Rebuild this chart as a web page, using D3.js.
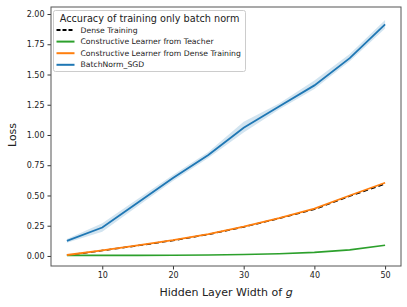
<!DOCTYPE html>
<html>
<head>
<meta charset="utf-8">
<script src="https://cdn.jsdelivr.net/npm/d3@7"></script>
<style>
  body { margin: 0; background: #fff; }
  text { font-family: "DejaVu Sans", sans-serif; }
</style>
</head>
<body>
<svg id="plot" width="407" height="307"></svg>
<script>
// data
var widths = [5, 10, 15, 20, 25, 30, 35, 40, 45, 50];
var denseLoss = [0.005, 0.045, 0.085, 0.128, 0.178, 0.24, 0.31, 0.385, 0.495, 0.595];
var teacherLoss = [0.005, 0.005, 0.005, 0.006, 0.008, 0.012, 0.018, 0.03, 0.05, 0.088];
var fromDenseLoss = [0.008, 0.047, 0.088, 0.13, 0.18, 0.243, 0.313, 0.392, 0.5, 0.605];
var sgdLoss = [0.125, 0.235, 0.44, 0.645, 0.835, 1.06, 1.235, 1.41, 1.635, 1.915];
var sgdLow = [0.11, 0.2, 0.41, 0.62, 0.81, 1.02, 1.21, 1.38, 1.61, 1.88];
var sgdHigh = [0.14, 0.27, 0.47, 0.67, 0.86, 1.11, 1.26, 1.45, 1.67, 1.95];
var yTicks = [0, 0.25, 0.5, 0.75, 1.0, 1.25, 1.5, 1.75, 2.0];
var xTicks = [10, 20, 30, 40, 50];

var series = [
  {name: "Dense Training", values: denseLoss, color: "#000", width: 1.5, dash: "5,3"},
  {name: "Constructive Learner from Teacher", values: teacherLoss, color: "#2ca02c", width: 1.6},
  {name: "Constructive Learner from Dense Training", values: fromDenseLoss, color: "#ff7f0e", width: 1.8},
  {name: "BatchNorm_SGD", values: sgdLoss, color: "#1f77b4", width: 1.8}
];

var svg = d3.select('#plot'),
  margin = {top: 7, right: 6, bottom: 41, left: 51},
  width = +svg.attr("width") - margin.left - margin.right,
  height = +svg.attr("height") - margin.top - margin.bottom;
var g = svg.append("g")
  .attr("transform", "translate(" + margin.left + "," + margin.top + ")");

var x = d3.scaleLinear().domain([2.75, 52.25]).range([0, width]),
  y = d3.scaleLinear().domain([-0.083, 2.058]).range([height, 0]);

// shaded band for SGD
g.append("path")
  .datum(widths)
  .attr("fill", "#1f77b4")
  .attr("fill-opacity", 0.2)
  .attr("d", d3.area()
    .x(function(d) { return x(d); })
    .y0(function(d, i) { return y(sgdLow[i]); })
    .y1(function(d, i) { return y(sgdHigh[i]); }));

var line = d3.line()
  .x(function(d, i) { return x(widths[i]); })
  .y(function(d) { return y(d); });

series.forEach(function(s) {
  g.append("path")
    .datum(s.values)
    .attr("fill", "none")
    .attr("stroke", s.color)
    .attr("stroke-width", s.width)
    .attr("stroke-dasharray", s.dash || null)
    .attr("d", line);
});

// axes
var xAxis = g.append("g")
  .attr("transform", "translate(0," + height + ")")
  .call(d3.axisBottom(x).tickValues(xTicks).tickSize(3.5).tickPadding(3));
var yAxis = g.append("g")
  .call(d3.axisLeft(y).tickValues(yTicks).tickFormat(d3.format(".2f")).tickSize(3.5).tickPadding(3));
[xAxis, yAxis].forEach(function(a) {
  a.select(".domain").remove();
  a.selectAll("text").style("font-size", "8px").style("fill", "#222").style("font-family", "DejaVu Sans");
  a.selectAll("line").style("stroke", "#333");
});

// frame
g.append("rect")
  .attr("width", width)
  .attr("height", height)
  .attr("fill", "none")
  .attr("stroke", "#555")
  .attr("stroke-width", 1);

// axis titles
svg.append("text")
  .attr("x", margin.left + width / 2)
  .attr("y", 296)
  .attr("text-anchor", "middle")
  .style("font-size", "11px")
  .style("fill", "#222")
  .html('Hidden Layer Width of <tspan font-style="italic">g</tspan>');
svg.append("text")
  .attr("transform", "translate(16," + (margin.top + y(1)) + ") rotate(-90)")
  .attr("text-anchor", "middle")
  .style("font-size", "11px")
  .style("fill", "#222")
  .text("Loss");

// legend
var lg = svg.append("g").attr("transform", "translate(53.5,10.5)");
lg.append("rect")
  .attr("width", 192)
  .attr("height", 61)
  .attr("rx", 2)
  .attr("fill", "#fff")
  .attr("fill-opacity", 0.8)
  .attr("stroke", "#ccc");
lg.append("text")
  .attr("x", 96)
  .attr("y", 11)
  .attr("text-anchor", "middle")
  .style("font-size", "9.7px")
  .style("fill", "#222")
  .text("Accuracy of training only batch norm");
series.forEach(function(s, i) {
  var yy = 19.5 + i * 11.6;
  lg.append("line")
    .attr("x1", 3).attr("x2", 21)
    .attr("y1", yy).attr("y2", yy)
    .attr("stroke", s.color)
    .attr("stroke-width", 2)
    .attr("stroke-dasharray", s.dash ? "4,2" : null);
  lg.append("text")
    .attr("x", 27)
    .attr("y", yy + 2.6)
    .style("font-size", "7.7px")
    .style("fill", "#222")
    .text(s.name);
});
</script>
</body>
</html>
